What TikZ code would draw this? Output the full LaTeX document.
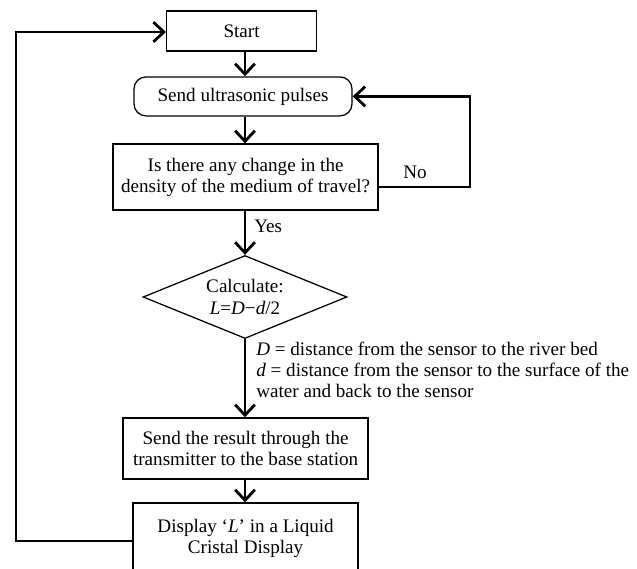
\documentclass[tikz,border=0pt]{standalone}
\usepackage{fontspec}
\setmainfont{Liberation Serif}
\usetikzlibrary{shapes.geometric,arrows.meta}
\tikzset{
  box/.style={draw, line width=0.9pt, align=center, inner sep=0pt},
  flow/.style={line width=2pt, -{Straight Barb[length=7.5pt,width=14pt]}}
}
\def\fs{\fontsize{13.6}{15}\selectfont}

\begin{document}
\begin{tikzpicture}[font=\fs]
        \clip (0,0) rectangle (15.925,-14.225);
        \node[box, minimum width=3.75cm, minimum height=1cm] (start) at (6.04,-0.775) {Start};
        \node[box, rounded corners=0.3cm, minimum width=5.45cm, minimum height=0.975cm] (pulses) at (6.075,-2.41) {Send ultrasonic pulses};
        \node[box, minimum width=6.625cm, minimum height=1.65cm] (quest) at (6.14,-4.425) {Is there any change in the\\density of the medium of travel?};
        \node[box, diamond, aspect=2.46, minimum width=5.1cm, minimum height=2.075cm] (calc) at (6.125,-7.425) {Calculate:\\\textit{L}=\textit{D}−\textit{d}/2};
        \node[box, minimum width=6.125cm, minimum height=1.525cm] (res) at (6.14,-11.21) {Send the result through the\\transmitter to the base station};
        \node[box, minimum width=5.625cm, minimum height=1.75cm] (disp) at (6.14,-13.45) {Display ‘\textit{L}’ in a Liquid\\Cristal Display};
        \node[anchor=north west, align=left, inner sep=0pt] (note) at (6.4,-8.55) {\textit{D} = distance from the sensor to the river bed\\\textit{d} = distance from the sensor to the surface of the\\water and back to the sensor};
        \node (no) at (10.375,-4.3) {No};
        \coordinate (loopB) at (0.4,-13.525);
        \coordinate (loopT) at (0.4,-0.8);
        \coordinate (noB) at (11.75,-4.675);
        \coordinate (noT) at (11.75,-2.41);
        \draw[flow] (start.south -| calc) -- (pulses.north -| calc);
        \draw[flow] (pulses.south -| calc) -- (quest.north -| calc);
        \draw[flow] (quest.south -| calc) -- node[right, pos=0.36, xshift=0.08cm] (yes) {Yes} (calc.north);
        \draw[flow] (calc.south) -- (res.north -| calc);
        \draw[flow] (res.south -| calc) -- (disp.north -| calc);
        \draw[flow] (quest.east |- noB) -- (noB) -- (noT) -- (pulses.east);
        \draw[flow] (disp.west |- loopB) -- (loopB) -- (loopT) -- (start.west |- loopT);
      \end{tikzpicture}
\end{document}
